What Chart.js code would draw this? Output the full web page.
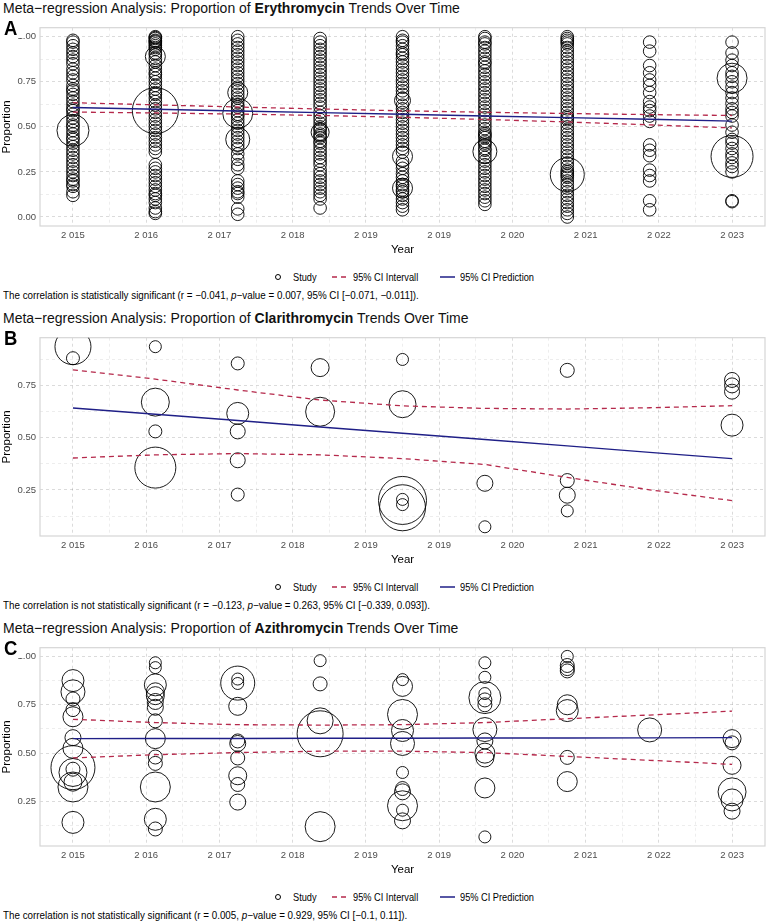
<!DOCTYPE html>
<html lang="en">
<head>
<meta charset="UTF-8">
<title>Meta-regression Analysis: Macrolide Proportions Over Time</title>
<style>
    body {
        margin: 0;
        background: #fff;
        font-family: 'Liberation Sans', Arial, Helvetica, sans-serif;
        color: #000;
    }

    .panel {
        position: relative;
        width: 767px;
        height: 310px;
    }

    .sx {
        display: inline-block;
        transform: scaleX(0.88);
        transform-origin: left center;
        white-space: nowrap;
    }

    .title {
        position: absolute;
        left: 3px;
        top: 0px;
        font-size: 14.5px;
        line-height: 17px;
        color: #111;
    }

    .title .sx {
        transform: scaleX(0.965);
    }

    .letter {
        position: absolute;
        left: 2px;
        top: 18px;
        font-size: 21px;
        line-height: 20px;
        font-weight: bold;
        background: #fff;
        padding: 0 6px 0 2px;
        z-index: 2;
    }

    .plot {
        position: absolute;
        left: 0;
        top: 18px;
        width: 767px;
        height: 240px;
    }

    .legend {
        position: absolute;
        left: 0;
        top: 270px;
        width: 767px;
        height: 14px;
        font-size: 10.5px;
        line-height: 14px;
    }

    .legend > * {
        position: absolute;
        top: 0;
    }

    .legend .dot {
        top: 4px;
        width: 4px;
        height: 4px;
        border: 1px solid #000;
        border-radius: 50%;
    }

    .legend svg {
        top: 5px;
    }

    .caption {
        position: absolute;
        left: 3px;
        top: 288px;
        font-size: 10.5px;
        line-height: 14px;
    }

    .caption .sx {
        transform: scaleX(0.935);
    }
</style>
</head>
<body>

<div class="panel">
    <div class="title"><span class="sx">Meta&minus;regression Analysis: Proportion of <b>Erythromycin</b> Trends Over Time</span></div>
    <div class="letter"><span class="sx">A</span></div>
    <canvas class="plot" id="chartA" width="767" height="240"></canvas>
    <div class="legend">
        <span class="dot" style="left:275px"></span>
        <span class="sx" style="left:293px">Study</span>
        <svg style="left:332px" width="16" height="4"><line x1="0" y1="2" x2="16" y2="2" stroke="#b5294b" stroke-width="1.4" stroke-dasharray="5,4"/></svg>
        <span class="sx" style="left:353px">95% CI Intervall</span>
        <svg style="left:440px" width="15" height="4"><line x1="0" y1="2" x2="15" y2="2" stroke="#1f1f87" stroke-width="1.5"/></svg>
        <span class="sx" style="left:460px">95% CI Prediction</span>
    </div>
    <div class="caption"><span class="sx">The correlation is statistically significant (r = &minus;0.041, <i>p</i>&minus;value = 0.007, 95% CI [&minus;0.071, &minus;0.011]).</span></div>
</div>

<div class="panel">
    <div class="title"><span class="sx">Meta&minus;regression Analysis: Proportion of <b>Clarithromycin</b> Trends Over Time</span></div>
    <div class="letter"><span class="sx">B</span></div>
    <canvas class="plot" id="chartB" width="767" height="240"></canvas>
    <div class="legend">
        <span class="dot" style="left:275px"></span>
        <span class="sx" style="left:293px">Study</span>
        <svg style="left:332px" width="16" height="4"><line x1="0" y1="2" x2="16" y2="2" stroke="#b5294b" stroke-width="1.4" stroke-dasharray="5,4"/></svg>
        <span class="sx" style="left:353px">95% CI Intervall</span>
        <svg style="left:440px" width="15" height="4"><line x1="0" y1="2" x2="15" y2="2" stroke="#1f1f87" stroke-width="1.5"/></svg>
        <span class="sx" style="left:460px">95% CI Prediction</span>
    </div>
    <div class="caption"><span class="sx">The correlation is not statistically significant (r = &minus;0.123, <i>p</i>&minus;value = 0.263, 95% CI [&minus;0.339, 0.093]).</span></div>
</div>

<div class="panel">
    <div class="title"><span class="sx">Meta&minus;regression Analysis: Proportion of <b>Azithromycin</b> Trends Over Time</span></div>
    <div class="letter"><span class="sx">C</span></div>
    <canvas class="plot" id="chartC" width="767" height="240"></canvas>
    <div class="legend">
        <span class="dot" style="left:275px"></span>
        <span class="sx" style="left:293px">Study</span>
        <svg style="left:332px" width="16" height="4"><line x1="0" y1="2" x2="16" y2="2" stroke="#b5294b" stroke-width="1.4" stroke-dasharray="5,4"/></svg>
        <span class="sx" style="left:353px">95% CI Intervall</span>
        <svg style="left:440px" width="15" height="4"><line x1="0" y1="2" x2="15" y2="2" stroke="#1f1f87" stroke-width="1.5"/></svg>
        <span class="sx" style="left:460px">95% CI Prediction</span>
    </div>
    <div class="caption"><span class="sx">The correlation is not statistically significant (r = 0.005, <i>p</i>&minus;value = 0.929, 95% CI [&minus;0.1, 0.11]).</span></div>
</div>

<script src="https://cdn.jsdelivr.net/npm/chart.js"></script>
<script>
    // x axis: 10 evenly spaced breaks from 2015 to 2023, labels as printed
    const xTickLabels = ['2 015', '2 016', '2 017', '2 018', '2 019', '2 019', '2 020', '2 021', '2 022', '2 023'];
    const yTickValues = [0, 0.25, 0.5, 0.75, 1];
    const lineYears = [2015, 2016, 2017, 2018, 2019, 2020, 2021, 2022, 2023];

    // A: Erythromycin - small studies per year (proportion), a handful of heavier studies
    const ery2015 = [0.98, 0.97, 0.95, 0.93, 0.91, 0.89, 0.87, 0.85, 0.82, 0.80, 0.78, 0.76, 0.73, 0.71, 0.70, 0.68, 0.66, 0.64, 0.62, 0.60, 0.59, 0.57, 0.55, 0.53, 0.51, 0.50, 0.48, 0.46, 0.44, 0.43, 0.41, 0.39, 0.37, 0.35, 0.33, 0.31, 0.29, 0.27, 0.25, 0.23, 0.21, 0.20, 0.18, 0.17, 0.14, 0.12];
    const ery2016 = [1.00, 0.995, 0.99, 0.98, 0.975, 0.97, 0.96, 0.95, 0.94, 0.93, 0.91, 0.90, 0.88, 0.86, 0.84, 0.82, 0.80, 0.79, 0.77, 0.75, 0.73, 0.71, 0.69, 0.68, 0.66, 0.64, 0.62, 0.60, 0.58, 0.56, 0.54, 0.52, 0.50, 0.48, 0.46, 0.44, 0.42, 0.40, 0.38, 0.36, 0.29, 0.27, 0.25, 0.23, 0.21, 0.19, 0.17, 0.15, 0.13, 0.12, 0.10, 0.08, 0.05, 0.03, 0.02];
    const ery2017 = [1.00, 0.98, 0.96, 0.94, 0.92, 0.90, 0.88, 0.86, 0.84, 0.82, 0.80, 0.78, 0.76, 0.74, 0.72, 0.70, 0.68, 0.66, 0.64, 0.62, 0.61, 0.59, 0.57, 0.56, 0.54, 0.52, 0.50, 0.48, 0.46, 0.44, 0.42, 0.40, 0.38, 0.35, 0.32, 0.29, 0.27, 0.20, 0.18, 0.16, 0.14, 0.13, 0.11, 0.045, 0.015];
    const ery2018 = [0.99, 0.97, 0.95, 0.93, 0.91, 0.89, 0.87, 0.85, 0.83, 0.81, 0.79, 0.77, 0.75, 0.73, 0.71, 0.69, 0.67, 0.65, 0.63, 0.61, 0.58, 0.56, 0.54, 0.52, 0.50, 0.49, 0.48, 0.46, 0.45, 0.44, 0.42, 0.41, 0.39, 0.37, 0.35, 0.33, 0.31, 0.29, 0.26, 0.24, 0.22, 0.20, 0.18, 0.16, 0.14, 0.12, 0.10, 0.05];
    const ery2019 = [1.00, 0.98, 0.97, 0.95, 0.93, 0.91, 0.90, 0.88, 0.86, 0.84, 0.82, 0.80, 0.78, 0.76, 0.74, 0.72, 0.70, 0.68, 0.66, 0.62, 0.60, 0.58, 0.56, 0.54, 0.52, 0.50, 0.48, 0.46, 0.44, 0.42, 0.40, 0.38, 0.36, 0.31, 0.29, 0.27, 0.24, 0.22, 0.20, 0.18, 0.17, 0.15, 0.14, 0.12, 0.10, 0.08, 0.06, 0.04];
    const ery2020 = [1.00, 0.99, 0.97, 0.96, 0.94, 0.92, 0.90, 0.88, 0.86, 0.85, 0.83, 0.81, 0.79, 0.77, 0.75, 0.73, 0.71, 0.69, 0.67, 0.65, 0.63, 0.61, 0.59, 0.57, 0.55, 0.53, 0.51, 0.49, 0.47, 0.46, 0.45, 0.44, 0.42, 0.41, 0.40, 0.38, 0.37, 0.35, 0.33, 0.31, 0.29, 0.27, 0.25, 0.23, 0.21, 0.19, 0.17, 0.15, 0.13, 0.11, 0.09, 0.07];
    const ery2021 = [1.00, 0.99, 0.98, 0.97, 0.96, 0.94, 0.92, 0.90, 0.88, 0.86, 0.84, 0.82, 0.80, 0.78, 0.76, 0.74, 0.72, 0.70, 0.68, 0.66, 0.64, 0.62, 0.60, 0.58, 0.56, 0.55, 0.54, 0.52, 0.50, 0.48, 0.46, 0.44, 0.42, 0.40, 0.38, 0.36, 0.34, 0.32, 0.30, 0.28, 0.26, 0.25, 0.24, 0.23, 0.22, 0.20, 0.18, 0.16, 0.14, 0.12, 0.10, 0.08, 0.06, 0.04, 0.02, 0.00];
    const ery2022 = [0.97, 0.92, 0.84, 0.80, 0.76, 0.73, 0.69, 0.64, 0.61, 0.59, 0.56, 0.53, 0.40, 0.37, 0.34, 0.26, 0.23, 0.20, 0.09, 0.04];
    const ery2023 = [0.97, 0.91, 0.87, 0.84, 0.80, 0.78, 0.75, 0.72, 0.69, 0.66, 0.63, 0.60, 0.58, 0.56, 0.51, 0.47, 0.43, 0.41, 0.38, 0.35, 0.33, 0.30, 0.28, 0.25, 0.09, 0.085];
    const eryColumns = [ery2015, ery2016, ery2017, ery2018, ery2019, ery2020, ery2021, ery2022, ery2023];
    const erySmallWeight = 6.3;
    const eryLargeYear = [2015, 2016, 2016, 2017, 2017, 2017, 2018, 2019, 2019, 2019, 2020, 2021, 2023, 2023];
    const eryLargeProp = [0.48, 0.89, 0.59, 0.69, 0.575, 0.43, 0.47, 0.646, 0.336, 0.16, 0.363, 0.235, 0.77, 0.336];
    const eryLargeWeight = [16, 10, 23, 10, 15, 12, 9, 8, 10, 10, 12, 17, 15, 21];
    const eryPred = [0.607, 0.598, 0.588, 0.579, 0.570, 0.560, 0.551, 0.542, 0.532];
    const eryUpper = [0.634, 0.622, 0.610, 0.599, 0.589, 0.581, 0.574, 0.568, 0.563];
    const eryLower = [0.582, 0.577, 0.571, 0.563, 0.553, 0.541, 0.527, 0.511, 0.494];

    // B: Clarithromycin
    const clarYear = [2015, 2015, 2016, 2016, 2016, 2016, 2017, 2017, 2017, 2017, 2017, 2018, 2018, 2019, 2019, 2019, 2019, 2019, 2019, 2020, 2020, 2021, 2021, 2021, 2021, 2023, 2023, 2023, 2023];
    const clarProp = [0.935, 0.88, 0.935, 0.67, 0.53, 0.357, 0.855, 0.616, 0.53, 0.392, 0.228, 0.835, 0.624, 0.874, 0.66, 0.20, 0.165, 0.205, 0.18, 0.282, 0.074, 0.822, 0.295, 0.225, 0.15, 0.776, 0.75, 0.72, 0.56];
    const clarWeight = [18, 6.5, 6, 14, 6.5, 20.5, 6.5, 11, 7.5, 7.5, 6.5, 9, 14.5, 6, 13.5, 24, 23, 6, 6, 8, 6, 7, 7, 8, 6, 7.5, 7.5, 7.5, 11];
    const clarPred = [0.642, 0.612, 0.582, 0.551, 0.521, 0.491, 0.461, 0.430, 0.400];
    const clarUpper = [0.824, 0.780, 0.728, 0.680, 0.652, 0.640, 0.637, 0.643, 0.653];
    const clarLower = [0.403, 0.418, 0.424, 0.418, 0.400, 0.372, 0.310, 0.251, 0.199];

    // C: Azithromycin
    const azYear = [2015, 2015, 2015, 2015, 2015, 2015, 2015, 2015, 2015, 2015, 2015, 2015, 2015,
        2016, 2016, 2016, 2016, 2016, 2016, 2016, 2016, 2016, 2016, 2016, 2016, 2016, 2016,
        2017, 2017, 2017, 2017, 2017, 2017, 2017, 2017, 2017, 2017,
        2018, 2018, 2018, 2018, 2018,
        2019, 2019, 2019, 2019, 2019, 2019, 2019, 2019, 2019, 2019, 2019,
        2020, 2020, 2020, 2020, 2020, 2020, 2020, 2020, 2020, 2020, 2020, 2020,
        2021, 2021, 2021, 2021, 2021, 2021, 2021, 2021,
        2022,
        2023, 2023, 2023, 2023, 2023, 2023];
    const azProp = [0.875, 0.817, 0.78, 0.725, 0.688, 0.58, 0.525, 0.425, 0.417, 0.40, 0.35, 0.325, 0.142,
        0.967, 0.942, 0.853, 0.817, 0.797, 0.767, 0.737, 0.667, 0.575, 0.48, 0.447, 0.325, 0.158, 0.108,
        0.883, 0.862, 0.86, 0.742, 0.563, 0.55, 0.475, 0.383, 0.338, 0.247,
        0.978, 0.858, 0.667, 0.60, 0.12,
        0.88, 0.845, 0.70, 0.617, 0.55, 0.40, 0.317, 0.30, 0.228, 0.205, 0.15,
        0.967, 0.892, 0.808, 0.787, 0.775, 0.75, 0.622, 0.563, 0.50, 0.475, 0.32, 0.067,
        1.0, 0.953, 0.937, 0.925, 0.75, 0.72, 0.478, 0.353,
        0.62,
        0.575, 0.553, 0.437, 0.30, 0.258, 0.20];
    const azWeight = [11, 12, 7, 7, 10, 8, 10, 22, 7, 14, 9, 15, 11,
        6, 6, 11, 9, 9, 8, 8, 7, 10, 7, 7, 15, 11, 7,
        6, 17, 6, 9, 7, 8, 7, 9, 7, 8,
        6, 7, 13, 23, 15,
        6, 10, 15, 11, 12, 6, 7, 8, 15, 6, 8,
        6, 6, 6, 16, 7, 7, 12, 8, 10, 9, 10, 6,
        6, 7, 7, 7, 10, 11, 7, 10,
        12,
        9, 7, 9, 14, 11, 8];
    const azPred = [0.575, 0.576, 0.576, 0.577, 0.577, 0.578, 0.578, 0.579, 0.580];
    const azUpper = [0.675, 0.658, 0.647, 0.645, 0.647, 0.658, 0.678, 0.697, 0.717];
    const azLower = [0.475, 0.492, 0.503, 0.510, 0.510, 0.503, 0.483, 0.463, 0.442];

    const xFirst = 2015, xLast = 2023;

    function zipPoints(years, props, weights) {
        return years.map((x, i) => ({ x: x, y: props[i], r: weights[i] }));
    }

    function linePoints(values) {
        return lineYears.map((x, i) => ({ x: x, y: values[i] }));
    }

    // light grey frame around the panel
    const framePlugin = {
        id: 'frame',
        beforeDatasetsDraw(chart) {
            const a = chart.chartArea, c = chart.ctx;
            c.save();
            c.strokeStyle = '#d6d6d6';
            c.lineWidth = 1.2;
            c.strokeRect(a.left, a.top, a.right - a.left, a.bottom - a.top);
            c.restore();
        }
    };

    function makePanel(id, points, pred, upper, lower, yMin, yMax) {
        const step = (xLast - xFirst) / (xTickLabels.length - 1);
        new Chart(document.getElementById(id), {
            type: 'bubble',
            data: {
                datasets: [
                    { type: 'line', data: linePoints(pred), borderColor: '#1f1f87', borderWidth: 1.4, pointRadius: 0, fill: false, order: 0 },
                    { type: 'line', data: linePoints(upper), borderColor: '#b5294b', borderWidth: 1.3, borderDash: [5, 4], pointRadius: 0, fill: false, order: 0 },
                    { type: 'line', data: linePoints(lower), borderColor: '#b5294b', borderWidth: 1.3, borderDash: [5, 4], pointRadius: 0, fill: false, order: 0 },
                    { type: 'bubble', data: points, borderColor: '#000', borderWidth: 0.9, backgroundColor: 'rgba(0,0,0,0)', clip: 0, order: 1 }
                ]
            },
            options: {
                responsive: false,
                animation: false,
                events: [],
                layout: { autoPadding: false, padding: { top: 4, right: 2, left: 0, bottom: 0 } },
                plugins: { legend: { display: false }, tooltip: { enabled: false } },
                scales: {
                    x: {
                        type: 'linear',
                        min: 2014.6,
                        max: 2023.4,
                        afterBuildTicks(scale) {
                            const t = [];
                            for (let k = 0; k < xTickLabels.length; k++) {
                                t.push({ value: xFirst + k * step, label_i: k });
                                if (k < xTickLabels.length - 1) t.push({ value: xFirst + (k + 0.5) * step, minor: true });
                            }
                            scale.ticks = t;
                        },
                        afterFit(scale) { scale.height = 32; },
                        ticks: {
                            autoSkip: false,
                            maxRotation: 0,
                            padding: 4,
                            color: '#4d4d4d',
                            font: { family: 'Liberation Sans', size: 9.5 },
                            callback(value, index, ticks) {
                                const t = ticks[index];
                                return t.minor ? '' : xTickLabels[t.label_i];
                            }
                        },
                        grid: {
                            drawTicks: false,
                            color: ctx => (ctx.tick && ctx.tick.minor) ? 'rgba(0,0,0,0.07)' : 'rgba(0,0,0,0.14)',
                            lineWidth: 1
                        },
                        border: { display: false, dash: [3, 3] },
                        title: {
                            display: true,
                            text: 'Year',
                            color: '#000',
                            font: { family: 'Liberation Sans', size: 11.5 },
                            padding: { top: 0, bottom: 1 }
                        }
                    },
                    y: {
                        type: 'linear',
                        min: yMin,
                        max: yMax,
                        afterBuildTicks(scale) {
                            const t = [];
                            yTickValues.forEach((v, k) => {
                                if (v >= yMin && v <= yMax) t.push({ value: v });
                                const m = v + 0.125;
                                if (k < yTickValues.length - 1 && m >= yMin && m <= yMax) t.push({ value: m, minor: true });
                            });
                            t.sort((a, b) => a.value - b.value);
                            scale.ticks = t;
                        },
                        afterFit(scale) { scale.width = 40; },
                        ticks: {
                            padding: 4,
                            color: '#4d4d4d',
                            font: { family: 'Liberation Sans', size: 9.5 },
                            callback(value, index, ticks) {
                                return ticks[index].minor ? '' : value.toFixed(2);
                            }
                        },
                        grid: {
                            drawTicks: false,
                            color: ctx => (ctx.tick && ctx.tick.minor) ? 'rgba(0,0,0,0.07)' : 'rgba(0,0,0,0.14)',
                            lineWidth: 1
                        },
                        border: { display: false, dash: [3, 3] },
                        title: {
                            display: true,
                            text: 'Proportion',
                            color: '#000',
                            font: { family: 'Liberation Sans', size: 11.5 },
                            padding: { top: 0, bottom: 2 }
                        }
                    }
                }
            },
            plugins: [framePlugin]
        });
    }

    // panel A points: columns of small studies + heavier studies
    const eryPoints = [];
    eryColumns.forEach((col, k) => {
        col.forEach(p => eryPoints.push({ x: lineYears[k], y: p, r: erySmallWeight }));
    });
    eryPoints.push(...zipPoints(eryLargeYear, eryLargeProp, eryLargeWeight));

    makePanel('chartA', eryPoints, eryPred, eryUpper, eryLower, -0.05, 1.05);
    makePanel('chartB', zipPoints(clarYear, clarProp, clarWeight), clarPred, clarUpper, clarLower, 0.03, 0.978);
    makePanel('chartC', zipPoints(azYear, azProp, azWeight), azPred, azUpper, azLower, 0.02, 1.045);
</script>
</body>
</html>
